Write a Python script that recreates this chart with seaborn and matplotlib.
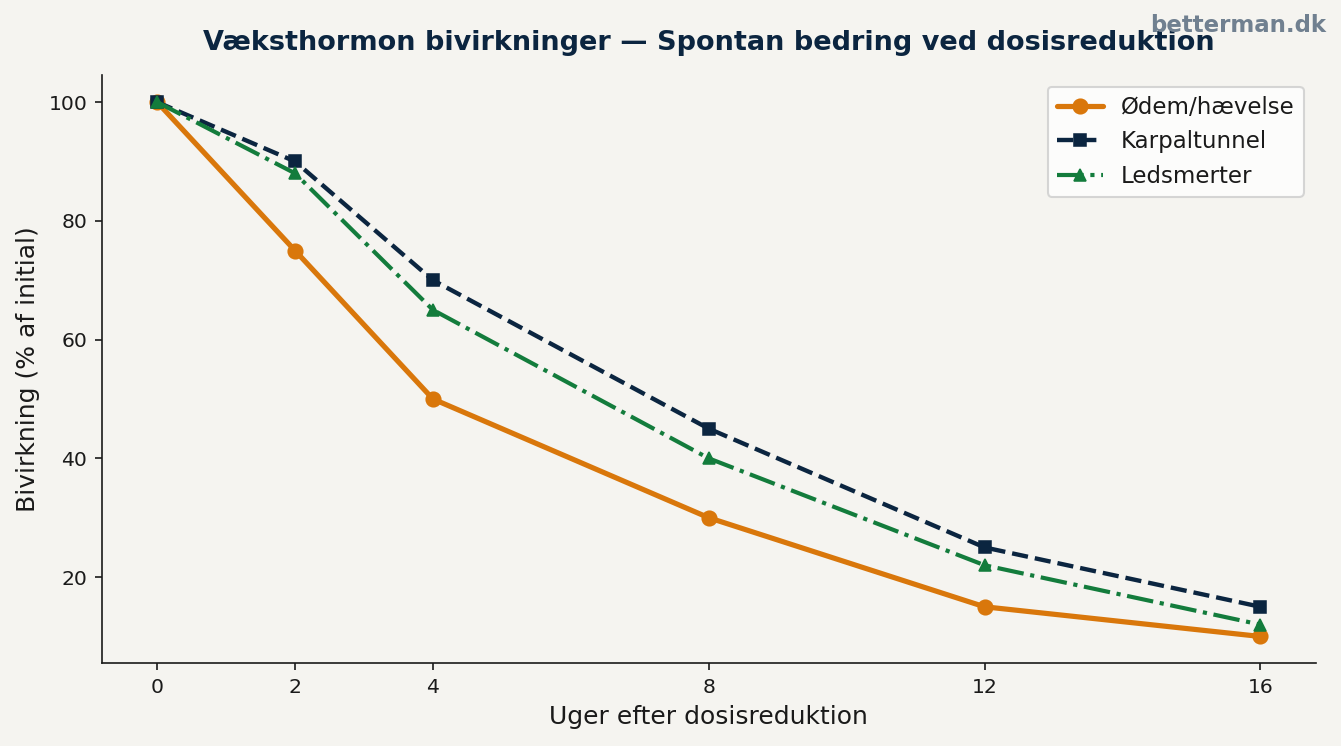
import pandas as pd
import matplotlib.pyplot as plt
import seaborn as sns

uger = [0, 2, 4, 8, 12, 16]
oedem = [100, 75, 50, 30, 15, 10]
karpal = [100, 90, 70, 45, 25, 15]
led = [100, 88, 65, 40, 22, 12]

bg = "#f5f4f0"
sns.set_style("ticks")
plt.rcParams["font.family"] = ["DejaVu Sans"]

fig, ax = plt.subplots(figsize=(1341 / 150, 746 / 150), dpi=150)
fig.patch.set_facecolor(bg)
ax.set_facecolor(bg)
fig.subplots_adjust(left=0.076, right=0.981, top=0.899, bottom=0.111)

sns.lineplot(x=uger, y=oedem, ax=ax, color="#d9770b", lw=2.5, marker="o",
             markersize=7, markeredgecolor="#d9770b", label="Ødem/hævelse")
sns.lineplot(x=uger, y=karpal, ax=ax, color="#0b2540", lw=2.1, marker="s",
             markersize=6, markeredgecolor="#0b2540", label="Karpaltunnel")
ax.lines[-1].set_linestyle("--")
sns.lineplot(x=uger, y=led, ax=ax, color="#137c3c", lw=2.0, marker="^",
             markersize=6, markeredgecolor="#137c3c", label="Ledsmerter")
ax.lines[-1].set_linestyle("-.")

ax.set_xticks(uger)
ax.set_xlabel("Uger efter dosisreduktion", fontsize=12, color="#1a1a1a")
ax.set_ylabel("Bivirkning (% af initial)", fontsize=12, color="#1a1a1a")
ax.tick_params(labelsize=9.8, colors="#1a1a1a")
ax.set_title("Væksthormon bivirkninger — Spontan bedring ved dosisreduktion",
             fontsize=13, fontweight="bold", color="#0b2540", pad=12)
sns.despine(ax=ax)
for s in ("left", "bottom"):
    ax.spines[s].set_color("#1a1a1a")

leg = ax.legend(loc="upper right", fontsize=11, frameon=True)
leg.get_frame().set_facecolor("white")
for t in leg.get_texts():
    t.set_color("#1a1a1a")

fig.text(0.989, 0.966, "betterman.dk", ha="right", va="center", fontsize=11,
         fontweight="bold", color="#708090")

fig.savefig("out.png", dpi=150, facecolor=bg)
